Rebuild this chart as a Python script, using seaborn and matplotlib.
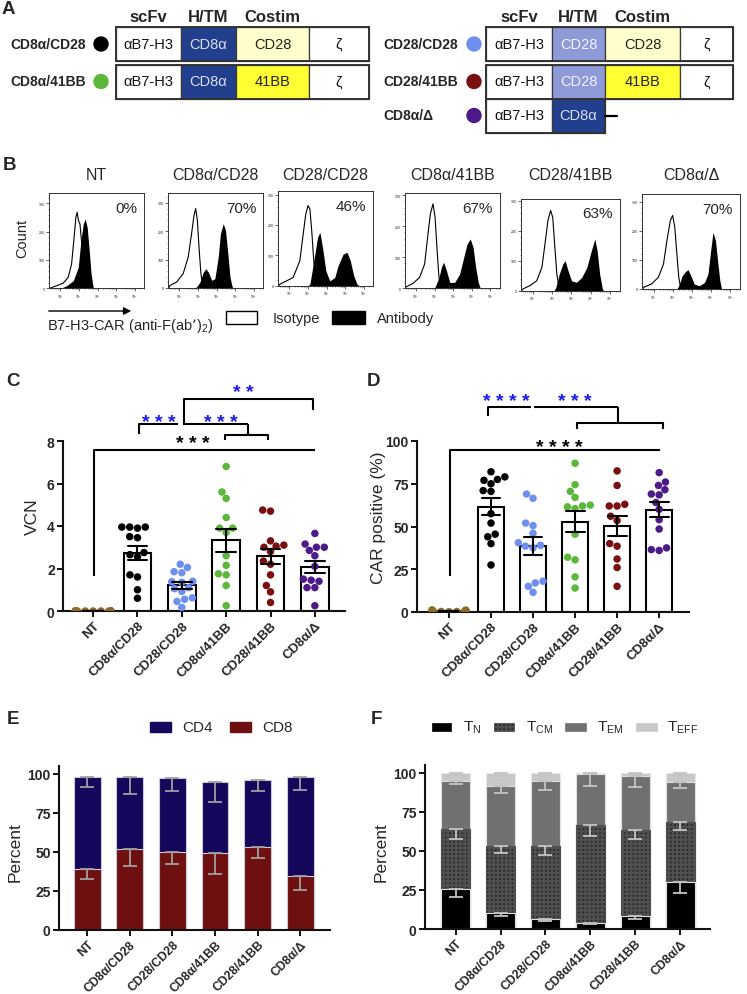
import numpy as np
import pandas as pd
import matplotlib
matplotlib.use("Agg")
import matplotlib.pyplot as plt
import matplotlib.transforms as mtransforms
from matplotlib.patches import Rectangle, Circle
import seaborn as sns

sns.set_theme(style="ticks")
plt.rcParams["font.family"] = ["Liberation Sans", "DejaVu Sans"]
plt.rcParams["mathtext.default"] = "regular"
plt.rcParams["axes.unicode_minus"] = False

# ============================ DATA ============================
GROUPS = ["NT", "CD8α/CD28", "CD28/CD28", "CD8α/41BB", "CD28/41BB", "CD8α/Δ"]
GROUP_COLORS = ["#8C6A2C", "#000000", "#6F8FF0", "#5CB83A", "#7A0F12", "#4E1A8A"]

# Panel B: flow histograms (x = log10 fluorescence, y = count)
NT_ISO_X = [0.42, 0.79, 1.15, 1.42, 1.6, 1.72, 1.83, 1.9, 1.97, 2.05, 2.15, 2.26, 2.37, 2.44]
NT_ISO_Y = [0, 9, 18, 39, 86, 168, 250, 268, 239, 227, 156, 62, 9, 0]
NT_AB_X = [1.0, 1.33, 1.69, 1.96, 2.1, 2.23, 2.33, 2.44, 2.55, 2.65, 2.76, 2.85]
NT_AB_Y = [0, 9, 27, 74, 168, 227, 245, 215, 133, 51, 4, 0]

A28_ISO_X = [0.42, 0.49, 0.85, 1.2, 1.47, 1.65, 1.78, 1.87, 1.96, 2.06, 2.15, 2.24, 2.31]
A28_ISO_Y = [0, 9, 21, 51, 109, 192, 256, 280, 239, 133, 51, 9, 0]
A28_AB_X = [1.8, 1.92, 2.1, 2.28, 2.42, 2.55, 2.73, 2.9, 3.08, 3.2, 3.35, 3.47, 3.58, 3.71, 3.83, 3.89]
A28_AB_Y = [0, 4, 21, 56, 68, 56, 27, 33, 109, 192, 227, 204, 133, 39, 4, 0]

C28_ISO_X = [0.42, 0.49, 0.85, 1.2, 1.56, 1.74, 1.88, 2.0, 2.1, 2.2, 2.31, 2.42, 2.49]
C28_ISO_Y = [0, 5, 16, 27, 82, 170, 236, 264, 253, 181, 82, 16, 0]
C28_AB_X = [2.0, 2.1, 2.37, 2.51, 2.64, 2.78, 2.96, 3.17, 3.44, 3.62, 3.89, 4.1, 4.28, 4.46, 4.64, 4.75]
C28_AB_Y = [0, 5, 104, 159, 176, 126, 49, 16, 27, 66, 104, 110, 82, 33, 5, 0]

ABB_ISO_X = [0.42, 0.49, 0.85, 1.2, 1.47, 1.65, 1.78, 1.92, 2.03, 2.14, 2.24, 2.33, 2.4]
ABB_ISO_Y = [0, 5, 16, 35, 78, 175, 240, 272, 229, 122, 35, 9, 0]
ABB_AB_X = [2.0, 2.1, 2.24, 2.37, 2.49, 2.64, 2.82, 3.08, 3.35, 3.57, 3.75, 3.92, 4.07, 4.21, 4.35, 4.46]
ABB_AB_Y = [0, 14, 35, 68, 84, 57, 19, 19, 46, 100, 143, 159, 132, 68, 19, 0]

CBB_ISO_X = [0.42, 0.49, 0.85, 1.2, 1.47, 1.65, 1.78, 1.92, 2.03, 2.14, 2.24, 2.35, 2.42]
CBB_ISO_Y = [0, 6, 17, 33, 78, 167, 233, 267, 244, 144, 56, 11, 0]
CBB_AB_X = [2.1, 2.19, 2.37, 2.55, 2.67, 2.82, 3.0, 3.26, 3.53, 3.8, 4.03, 4.21, 4.33, 4.46, 4.6, 4.67]
CBB_AB_Y = [0, 11, 56, 89, 100, 67, 33, 28, 44, 78, 133, 172, 133, 56, 6, 0]

AD_ISO_X = [0.42, 0.47, 0.88, 1.24, 1.51, 1.69, 1.87, 1.99, 2.1, 2.21, 2.31, 2.4, 2.49]
AD_ISO_Y = [0, 6, 17, 40, 86, 167, 236, 253, 213, 121, 40, 6, 0]
AD_AB_X = [2.2, 2.31, 2.49, 2.67, 2.8, 2.94, 3.12, 3.39, 3.66, 3.84, 3.98, 4.1, 4.23, 4.34, 4.46, 4.55]
AD_AB_Y = [0, 11, 46, 61, 66, 46, 17, 11, 23, 52, 132, 195, 167, 98, 29, 0]

HIST_ISO = [(NT_ISO_X, NT_ISO_Y), (A28_ISO_X, A28_ISO_Y), (C28_ISO_X, C28_ISO_Y),
            (ABB_ISO_X, ABB_ISO_Y), (CBB_ISO_X, CBB_ISO_Y), (AD_ISO_X, AD_ISO_Y)]
HIST_AB = [(NT_AB_X, NT_AB_Y), (A28_AB_X, A28_AB_Y), (C28_AB_X, C28_AB_Y),
           (ABB_AB_X, ABB_AB_Y), (CBB_AB_X, CBB_AB_Y), (AD_AB_X, AD_AB_Y)]
PCT_POS = ["0%", "70%", "46%", "67%", "63%", "70%"]
HIST_YMAX = [335, 335, 311, 306, 305, 327]

# Panel C: VCN
VCN_NT = [0, 0, 0, 0, 0, 0, 0, 0, 0, 0, 0, 0, 0]
VCN_A28 = [3.95, 3.95, 3.95, 3.9, 3.5, 3.45, 2.75, 2.65, 2.55, 1.7, 1.6, 1.0, 0.6]
VCN_C28 = [2.2, 2.05, 1.85, 1.8, 1.4, 1.38, 1.35, 1.1, 1.05, 0.92, 0.62, 0.55, 0.45, 0.17]
VCN_ABB = [6.8, 5.6, 5.3, 4.4, 3.9, 3.9, 3.7, 2.6, 2.15, 1.75, 1.7, 1.2, 0.25]
VCN_CBB = [4.75, 4.7, 3.3, 3.1, 3.05, 3.0, 2.8, 2.35, 2.2, 1.7, 1.2, 0.9, 0.4]
VCN_AD = [3.65, 3.15, 3.0, 3.0, 2.85, 2.6, 2.1, 1.5, 1.45, 1.4, 1.1, 1.1, 0.25]

# Panel D: CAR positive (%)
CAR_NT = [0.5, 1.0, 0.3, 0.8, 1.2, 0.2, 0.6, 0.9, 0.4, 1.1, 0.7, 0.3, 0.5]
CAR_A28 = [82, 79, 77.5, 77, 75, 71, 70.5, 57.5, 52, 45.5, 44, 40, 27.5]
CAR_C28 = [69, 66.5, 52, 50.5, 46, 40.5, 39, 38.5, 37.5, 18, 17, 15, 11.5]
CAR_ABB = [87, 74.5, 70.5, 67, 62.5, 62, 61.5, 60.5, 45.5, 32, 30.5, 20.5, 14]
CAR_CBB = [82.5, 74, 63, 62, 62, 56, 53.5, 40, 38.5, 31, 26, 15]
CAR_AD = [81.5, 76, 74, 71.5, 69, 68.5, 64, 60, 54, 48.5, 37.5, 36.5, 36]

# Panel E: CD4 / CD8 (%)
E_CD8 = [39.4, 51.8, 50.3, 49.3, 53.5, 34.3]
E_CD8_SEM = [6.9, 11.1, 8.3, 13.3, 7.5, 8.8]
E_CD4 = [58.5, 46.1, 46.9, 45.8, 42.9, 63.6]
E_CD4_SEM = [6.5, 10.7, 7.9, 13.3, 7.5, 8.0]

# Panel F: memory subsets (%)
F_TN = [25.7, 10.3, 6.4, 3.9, 8.1, 30.4]
F_TCM = [38.1, 42.8, 46.7, 62.9, 55.1, 38.1]
F_TEM = [31.1, 38.5, 41.8, 32.8, 34.9, 25.7]
F_TEFF = [5.1, 8.4, 5.1, 0.4, 1.9, 5.8]
F_TN_SEM = [5.4, 1.7, 1.5, 0.7, 1.7, 7.5]
F_TCM_SEM = [6.0, 4.5, 5.6, 7.3, 5.4, 4.9]
F_TEM_SEM = [2.2, 4.2, 6.0, 8.0, 7.1, 3.8]
F_TEFF_SEM = [1.1, 1.9, 1.1, 0.0, 0.4, 1.1]

# ============================ FIGURE ============================
W, H = 747, 995
fig = plt.figure(figsize=(W / 100, H / 100), dpi=100)


def rect(x0, y0, x1, y1):
    return [x0 / W, 1 - y1 / H, (x1 - x0) / W, (y1 - y0) / H]


ov = fig.add_axes([0, 0, 1, 1])
ov.set_xlim(0, W)
ov.set_ylim(H, 0)
ov.axis("off")
ov.set_zorder(10)

# panel letters
for letter, (lx, ly) in zip("ABCDEF", [(8, 9), (9, 166), (13, 381), (374, 381), (13, 720), (376, 720)]):
    ov.text(lx, ly, letter, fontsize=13.5, fontweight="bold", ha="center", va="center")

# ---------------- Panel A (schematic) ----------------
SEG_STYLE = {
    "scfv": ("αB7-H3", "white", "#111111"),
    "cd8": ("CD8α", "#213F8C", "#D8DEF5"),
    "cd28h": ("CD28", "#8E9AD8", "#F2F4FF"),
    "cd28c": ("CD28", "#FFFFCC", "#222222"),
    "bb": ("41BB", "#FFFF33", "#222222"),
    "zeta": ("ζ", "white", "#111111"),
}
LEFT_X = [116, 181, 236, 309, 369]
RIGHT_X = [486, 552, 605, 680, 733]
rows = [
    ("CD8α/CD28", 10, 101, 45, LEFT_X, ["scfv", "cd8", "cd28c", "zeta"], GROUP_COLORS[1]),
    ("CD8α/41BB", 10, 101, 82.5, LEFT_X, ["scfv", "cd8", "bb", "zeta"], GROUP_COLORS[3]),
    ("CD28/CD28", 383, 474, 45, RIGHT_X, ["scfv", "cd28h", "cd28c", "zeta"], GROUP_COLORS[2]),
    ("CD28/41BB", 383, 474, 82.5, RIGHT_X, ["scfv", "cd28h", "bb", "zeta"], GROUP_COLORS[4]),
    ("CD8α/Δ", 383, 474, 116.5, RIGHT_X, ["scfv", "cd8"], GROUP_COLORS[5]),
]
bh = 34
for lab, lx, cx, yc, xs, segs, col in rows:
    ov.text(lx, yc, lab, fontsize=10, fontweight="bold", ha="left", va="center")
    ov.add_patch(Circle((cx, yc), 7, color=col))
    for i, key in enumerate(segs):
        txt, fc, tc = SEG_STYLE[key]
        ov.add_patch(Rectangle((xs[i], yc - bh / 2), xs[i + 1] - xs[i], bh,
                               facecolor=fc, edgecolor="#3a3a3a", lw=0.9))
        ov.text((xs[i] + xs[i + 1]) / 2, yc, txt, fontsize=10.5, color=tc, ha="center", va="center")
    ov.add_patch(Rectangle((xs[0], yc - bh / 2), xs[len(segs)] - xs[0], bh,
                           facecolor="none", edgecolor="#333333", lw=1.4))
ov.plot([605, 617], [116.5, 116.5], color="black", lw=1.6)
for hx, ht in zip([148, 208, 272, 519, 578, 642], ["scFv", "H/TM", "Costim", "scFv", "H/TM", "Costim"]):
    ov.text(hx, 17, ht, fontsize=12, fontweight="bold", ha="center", va="center")

# ---------------- Panel B (histograms) ----------------
B_BOXES = [(49.3, 194.3, 144, 289.3), (168.3, 194, 263.3, 289), (278.3, 192.3, 373, 286.7),
           (404.7, 194.3, 499.7, 289.3), (521.3, 200, 619.7, 291.7), (642.3, 195, 739.7, 290)]
minor_x = [d + np.log10(k) for d in range(0, 6) for k in range(2, 10)]
for i, (x0, y0, x1, y1) in enumerate(B_BOXES):
    axb = fig.add_axes(rect(x0, y0, x1, y1))
    axb.fill_between(HIST_AB[i][0], HIST_AB[i][1], color="black", lw=0)
    sns.lineplot(x=HIST_ISO[i][0], y=HIST_ISO[i][1], color="black", lw=0.8, ax=axb, sort=False)
    axb.set_xlim(0.4, 5.5)
    axb.set_ylim(0, HIST_YMAX[i])
    axb.set_xticks([1, 2, 3, 4, 5])
    axb.set_xticklabels([f"$10^{{{k}}}$" for k in range(1, 6)])
    axb.set_xticks([m for m in minor_x if 0.4 < m < 5.5], minor=True)
    axb.set_yticks([0, 100, 200, 300])
    axb.set_yticks(range(0, HIST_YMAX[i], 20), minor=True)
    axb.tick_params(axis="both", which="major", labelsize=2.5, length=2, width=0.5, pad=1)
    axb.tick_params(axis="both", which="minor", length=1, width=0.4)
    for s in axb.spines.values():
        s.set_linewidth(0.7)
        s.set_color("#333333")
    axb.set_xlabel("")
    axb.set_ylabel("")
    axb.text(0.93, 0.845, PCT_POS[i], transform=axb.transAxes, ha="right", va="center", fontsize=11)
    ov.text((x0 + x1) / 2, 175, GROUPS[i], fontsize=11.5, ha="center", va="center")

ov.text(22, 238, "Count", rotation=90, fontsize=10.5, ha="center", va="center")
ov.annotate("", xy=(134, 312), xytext=(46, 312),
            arrowprops=dict(arrowstyle="-|>", color="black", lw=1.0, mutation_scale=11))
ov.text(47, 326, "B7-H3-CAR (anti-F(ab’)$_{2}$)", fontsize=10.5, ha="left", va="center")
ov.add_patch(Rectangle((226, 312), 31, 13, facecolor="white", edgecolor="black", lw=1.0))
ov.text(273, 319, "Isotype", fontsize=10.5, ha="left", va="center")
ov.add_patch(Rectangle((332, 312), 33, 13, facecolor="black", edgecolor="black", lw=1.0))
ov.text(377, 319, "Antibody", fontsize=10.5, ha="left", va="center")


# ---------------- helpers ----------------
def long_df(lists):
    return pd.DataFrame([(g, v) for g, vals in zip(GROUPS, lists) for v in vals],
                        columns=["group", "value"])


def style_axis(ax, labelsize=10):
    sns.despine(ax=ax)
    for s in ["left", "bottom"]:
        ax.spines[s].set_linewidth(1.5)
        ax.spines[s].set_color("#111111")
    ax.tick_params(axis="both", length=4, width=1.4, labelsize=labelsize, pad=2, color="#111111")
    for lab in ax.get_yticklabels():
        lab.set_fontweight("bold")
    ax.set_xlabel("")
    ax.set_ylabel("")


def rot_labels(ax, size=9.5):
    ax.set_xticks(range(len(GROUPS)))
    ax.set_xticklabels(GROUPS)
    for lab in ax.get_xticklabels():
        lab.set_rotation(45)
        lab.set_ha("right")
        lab.set_va("top")
        lab.set_rotation_mode("anchor")
        lab.set_fontweight("bold")
        lab.set_fontsize(size)


def scatter_bar(ax, df):
    sns.barplot(data=df, x="group", y="value", order=GROUPS, errorbar="se", capsize=0.45,
                width=0.63, color="white", saturation=1, edgecolor="black", linewidth=1.5,
                err_kws={"color": "black", "linewidth": 1.5}, ax=ax)
    sns.swarmplot(data=df, x="group", y="value", order=GROUPS, hue="group", hue_order=GROUPS,
                  palette=GROUP_COLORS, size=5.4, legend=False, warn_thresh=1, ax=ax, zorder=3)
    for ln in ax.lines:
        ln.set_zorder(4)


def lines(ax, xs, ys, color="black"):
    ax.plot(xs, ys, color=color, lw=1.5, clip_on=False, solid_capstyle="butt", zorder=5)


def stars(ax, x, y, s, color):
    tr = mtransforms.offset_copy(ax.transData, fig=fig, x=0, y=-8.3, units="points")
    ax.text(x, y, s, transform=tr, ha="center", va="baseline", fontsize=14, fontweight="bold",
            color=color, clip_on=False)


BLUE = "#1A1AF0"

# ---------------- Panel C ----------------
axC = fig.add_axes(rect(63, 442, 345, 612))
scatter_bar(axC, long_df([VCN_NT, VCN_A28, VCN_C28, VCN_ABB, VCN_CBB, VCN_AD]))
axC.set_xlim(-0.68, 5.68)
axC.set_ylim(0, 8)
axC.set_yticks([0, 2, 4, 6, 8])
style_axis(axC)
rot_labels(axC)
lines(axC, [0.02, 0.02, 5.0], [1.65, 7.58, 7.58])
lines(axC, [2.97, 2.97, 3.94, 3.94], [8.05, 8.28, 8.28, 8.05])
lines(axC, [3.49, 3.49], [8.28, 8.8])
lines(axC, [2.03, 3.49], [8.8, 8.8])
lines(axC, [1.04, 1.04, 1.91], [8.33, 8.8, 8.8])
lines(axC, [2.05, 2.05, 4.95, 4.95], [8.8, 9.98, 9.98, 9.46])
stars(axC, 2.25, 8.19, "* * *", "black")
stars(axC, 1.49, 9.22, "* * *", BLUE)
stars(axC, 2.88, 9.22, "* * *", BLUE)
stars(axC, 3.38, 10.6, "* *", BLUE)
ov.text(32, 517, "VCN", rotation=90, fontsize=12.5, ha="center", va="center")

# ---------------- Panel D ----------------
axD = fig.add_axes(rect(417, 442, 689, 613))
scatter_bar(axD, long_df([CAR_NT, CAR_A28, CAR_C28, CAR_ABB, CAR_CBB, CAR_AD]))
axD.set_xlim(-0.76, 5.71)
axD.set_ylim(0, 100)
axD.set_yticks([0, 25, 50, 75, 100])
style_axis(axD)
rot_labels(axD)
lines(axD, [0.02, 0.02, 5.02], [21, 94.7, 94.7])
lines(axD, [3.05, 3.05, 5.1, 5.1], [107, 110.5, 110.5, 107])
lines(axD, [4.02, 4.02], [110.5, 120])
lines(axD, [2.02, 4.02], [120, 120])
lines(axD, [0.93, 0.93, 1.95], [114.6, 120, 120])
stars(axD, 2.62, 100.6, "* * * *", "black")
stars(axD, 1.36, 127.5, "* * * *", BLUE)
stars(axD, 3.0, 127.5, "* * *", BLUE)
ov.text(378, 518, "CAR positive (%)", rotation=90, fontsize=12.5, ha="center", va="center")


# ---------------- Panel E ----------------
def stacked(ax, layers, colors, sems, width, ecolor, hatches, edge):
    tops = np.cumsum(np.array(layers), axis=0)
    for k in range(len(layers) - 1, -1, -1):
        sns.barplot(x=GROUPS, y=tops[k], order=GROUPS, color=colors[k], saturation=1,
                    width=width, edgecolor=edge[k], linewidth=0.8, hatch=hatches[k],
                    errorbar=None, ax=ax)
    for k in range(len(layers)):
        ax.errorbar(range(len(GROUPS)), tops[k], yerr=[sems[k], [0] * len(GROUPS)], fmt="none",
                    ecolor=ecolor, elinewidth=1.3, capsize=5, capthick=1.3, zorder=5)


axE = fig.add_axes(rect(59, 767, 330, 931))
stacked(axE, [E_CD8, E_CD4], ["#6E1010", "#14075C"], [E_CD8_SEM, E_CD4_SEM], 0.63,
        "#A0A0A0", [None, None], ["#C9C9D9", "#C9C9D9"])
axE.set_xlim(-0.66, 5.7)
axE.set_ylim(0, 105.1)
axE.set_yticks([0, 25, 50, 75, 100])
style_axis(axE)
rot_labels(axE, size=8.8)
ov.text(15, 852, "Percent", rotation=90, fontsize=12.5, ha="center", va="center")
ov.add_patch(Rectangle((150, 723), 21, 10, color="#14075C"))
ov.text(182, 728, "CD4", fontsize=11, ha="left", va="center")
ov.add_patch(Rectangle((230, 723), 21, 10, color="#6E1010"))
ov.text(262, 728, "CD8", fontsize=11, ha="left", va="center")

# ---------------- Panel F ----------------
plt.rcParams["hatch.linewidth"] = 1.6
axF = fig.add_axes(rect(425, 766, 710, 930))
stacked(axF, [F_TN, F_TCM, F_TEM, F_TEFF], ["#000000", "#2A2A2A", "#707070", "#C8C8C8"],
        [F_TN_SEM, F_TCM_SEM, F_TEM_SEM, F_TEFF_SEM], 0.65, "#C4C4C4",
        [None, "++++", None, None], ["#E0E0E0", "#505050", "#E0E0E0", "#E8E8E8"])
axF.set_xlim(-0.68, 5.66)
axF.set_ylim(0, 105.1)
axF.set_yticks([0, 25, 50, 75, 100])
style_axis(axF)
rot_labels(axF, size=8.8)
ov.text(381, 852, "Percent", rotation=90, fontsize=12.5, ha="center", va="center")
leg = [((432, 451), 463, "$T_{N}$", "#000000", None, "black"),
       ((494, 514), 526, "$T_{CM}$", "#2A2A2A", "++++", "#505050"),
       ((565, 586), 597, "$T_{EM}$", "#707070", None, "#707070"),
       ((636, 657), 667, "$T_{EFF}$", "#C8C8C8", None, "#C8C8C8")]
for (px0, px1), tx, lab, fc, hatch, ec in leg:
    ov.add_patch(Rectangle((px0, 724), px1 - px0, 8, facecolor=fc, hatch=hatch, edgecolor=ec, lw=0.5))
    ov.text(tx, 728, lab, fontsize=11, ha="left", va="center")

fig.savefig("out.png", dpi=100)
